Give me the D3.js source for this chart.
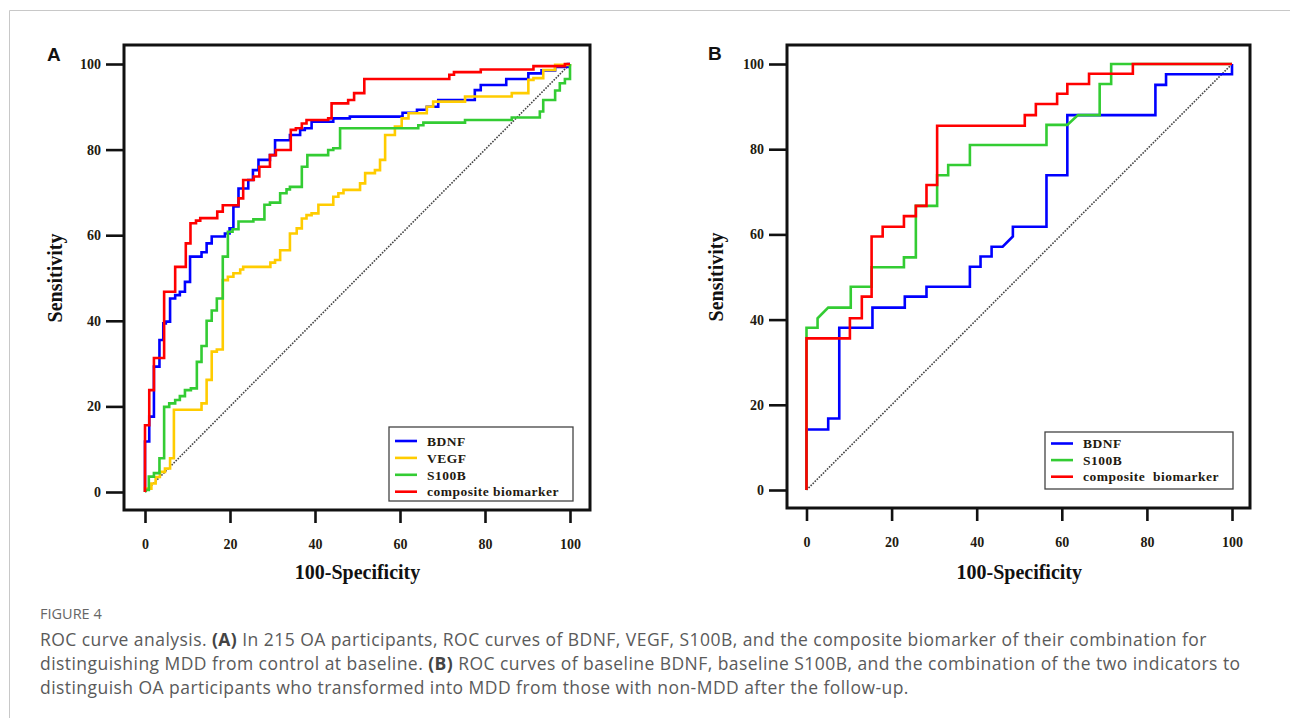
<!DOCTYPE html>
<html>
<head>
<meta charset="utf-8">
<script src="https://cdn.jsdelivr.net/npm/d3@7"></script>
<style>
  html, body { margin: 0; padding: 0; background: #fff; }
  svg { display: block; }
</style>
</head>
<body>
<div id="chart"></div>
<script>
// ticks shared by both panels
const ticks = [0, 20, 40, 60, 80, 100];

// panel A - [100-specificity, sensitivity]
const legendA = ["BDNF", "VEGF", "S100B", "composite biomarker"];
const bdnfA = [[0,0],[0,11.8],[1,11.8],[1,17.6],[2.1,17.6],[2.1,29.3],[3.4,29.3],[3.4,35.5],[4.3,35.5],[4.3,39.4],[4.9,39.4],[4.9,39.8],[5.9,39.8],[5.9,45.2],[7.1,45.2],[7.1,46],[8.2,46],[8.2,46.8],[9.4,46.8],[9.4,49.1],[10.6,49.1],[10.6,55],[13.3,55],[13.3,56],[14.5,56],[14.5,58.1],[15.7,58.1],[15.7,59.7],[18.8,59.7],[18.8,60.4],[19.9,60.4],[19.9,61.6],[20.8,61.6],[20.8,66.7],[22,66.7],[22,70.9],[24.3,70.9],[24.3,72.9],[25.4,72.9],[25.4,75.2],[26.7,75.2],[26.7,77.6],[29.4,77.6],[29.4,78.7],[30.6,78.7],[30.6,82.2],[34.1,82.2],[34.1,83.4],[36.5,83.4],[36.5,84.6],[37.6,84.6],[37.6,85],[39.2,85],[39.2,86.5],[44.3,86.5],[44.3,87.3],[48.2,87.3],[48.2,87.7],[60.6,87.7],[60.6,88.6],[64,88.6],[64,89.3],[66.3,89.3],[66.3,90],[69,90],[69,91.6],[77.6,91.6],[77.6,93.9],[79,93.9],[79,95.1],[85,95.1],[85,96.5],[90.2,96.5],[90.2,97.8],[93.3,97.8],[93.3,98.5],[96.5,98.5],[96.5,99.3],[99.5,99.3],[99.5,100],[100,100]];
const vegfA = [[0,0],[0,0.8],[1.5,0.8],[1.5,2],[2.5,2],[2.5,3.5],[3.5,3.5],[3.5,4.7],[4.7,4.7],[4.7,5.5],[5.9,5.5],[5.9,7.9],[6.8,7.9],[6.8,19.2],[13.3,19.2],[13.3,20.7],[14.5,20.7],[14.5,26.2],[15.7,26.2],[15.7,32.8],[16.9,32.8],[16.9,33.3],[18.3,33.3],[18.3,49.5],[19.5,49.5],[19.5,50.3],[20.8,50.3],[20.8,51.1],[22.4,51.1],[22.4,52],[23.1,52],[23.1,52.6],[29.5,52.6],[29.5,53.6],[30.6,53.6],[30.6,54.2],[31.8,54.2],[31.8,56.5],[34.1,56.5],[34.1,60.4],[35.7,60.4],[35.7,61.6],[36.9,61.6],[36.9,63.9],[38,63.9],[38,64.7],[39.2,64.7],[39.2,65.1],[40.8,65.1],[40.8,67.1],[44.3,67.1],[44.3,69],[45.5,69],[45.5,69.8],[46.7,69.8],[46.7,70.6],[50.6,70.6],[50.6,72.1],[51.8,72.1],[51.8,74.5],[54.1,74.5],[54.1,75.2],[55.3,75.2],[55.3,77.6],[56.5,77.6],[56.5,83.4],[58.8,83.4],[58.8,85.4],[60.4,85.4],[60.4,87.3],[62,87.3],[62,88.5],[66.3,88.5],[66.3,90],[67.8,90],[67.8,91.2],[75.3,91.2],[75.3,92.4],[86.3,92.4],[86.3,93.2],[90.2,93.2],[90.2,96.3],[91.4,96.3],[91.4,96.7],[93.7,96.7],[93.7,98.6],[96.5,98.6],[96.5,99.8],[100,99.8],[100,100]];
const s100bA = [[0,0],[0.4,0.5],[0.9,0.5],[0.9,3.6],[2.1,3.6],[2.1,4.4],[3.4,4.4],[3.4,7.9],[4.5,7.9],[4.5,19.9],[5.7,19.9],[5.7,20.7],[7.1,20.7],[7.1,21.5],[8.2,21.5],[8.2,22.4],[9.4,22.4],[9.4,23.8],[10.8,23.8],[10.8,24.2],[12.2,24.2],[12.2,30.4],[13.3,30.4],[13.3,34.1],[14.5,34.1],[14.5,40],[15.7,40],[15.7,42.4],[16.9,42.4],[16.9,45.2],[18.3,45.2],[18.3,55],[19.5,55],[19.5,60.8],[20.6,60.8],[20.6,61.4],[22,61.4],[22,63.2],[25.5,63.2],[25.5,63.7],[28.1,63.7],[28.1,67.1],[29.4,67.1],[29.4,67.6],[31.8,67.6],[31.8,69.8],[33.3,69.8],[33.3,70.7],[34.1,70.7],[34.1,71.3],[36.9,71.3],[36.9,76],[38.2,76],[38.2,78.7],[43.1,78.7],[43.1,79.9],[44.3,79.9],[44.3,80.3],[45.9,80.3],[45.9,85],[64.3,85],[64.3,85.7],[65.5,85.7],[65.5,86.3],[75.3,86.3],[75.3,86.9],[86.3,86.9],[86.3,87.5],[92.9,87.5],[92.9,88.9],[93.7,88.9],[93.7,91.6],[96.5,91.6],[96.5,93.8],[97.6,93.8],[97.6,95.5],[98.8,95.5],[98.8,96.5],[100,96.5],[100,100]];
const compositeA = [[0,0],[0,15.6],[1,15.6],[1,23.8],[2.1,23.8],[2.1,31.3],[4.5,31.3],[4.5,46.8],[7.1,46.8],[7.1,52.6],[9.6,52.6],[9.6,58.1],[10.7,58.1],[10.7,62.8],[12,62.8],[12,63.4],[13,63.4],[13,64],[17,64],[17,65.5],[18.3,65.5],[18.3,67],[22,67],[22,68.6],[23.1,68.6],[23.1,72.9],[25.6,72.9],[25.6,73.7],[26.9,73.7],[26.9,76],[29.4,76],[29.4,78.7],[30.8,78.7],[30.8,79.9],[34.3,79.9],[34.3,84.6],[35.5,84.6],[35.5,85],[36.9,85],[36.9,86.1],[38,86.1],[38,86.9],[43.1,86.9],[43.1,87.3],[43.9,87.3],[43.9,90.8],[47.8,90.8],[47.8,91.6],[49.2,91.6],[49.2,93.2],[51.6,93.2],[51.6,96.5],[71.6,96.5],[71.6,97.5],[72.7,97.5],[72.7,98.1],[79,98.1],[79,98.7],[91.4,98.7],[91.4,99.5],[98.8,99.5],[98.8,100],[100,100]];

// panel B
const legendB = ["BDNF", "S100B", "composite  biomarker"];
const bdnfB = [[0,0],[0,14.2],[5.1,14.2],[5.1,16.8],[7.7,16.8],[7.7,38.1],[15.5,38.1],[15.5,42.8],[23.1,42.8],[23.1,45.4],[28.2,45.4],[28.2,47.7],[38.4,47.7],[38.4,52.4],[40.9,52.4],[40.9,54.8],[43.5,54.8],[43.5,57.1],[46.1,57.1],[48.5,59.5],[48.5,61.8],[56.4,61.8],[56.4,73.9],[61.3,73.9],[61.3,88],[82,88],[82,95.1],[84.5,95.1],[84.5,97.6],[100,97.6],[100,100]];
const s100bB = [[0,0],[0,38.1],[2.6,38.1],[2.6,40.3],[5.1,42.8],[10.4,42.8],[10.4,47.7],[15.3,47.7],[15.3,52.3],[22.9,52.3],[22.9,54.6],[25.7,54.6],[25.7,66.7],[30.7,66.7],[30.7,73.9],[33.3,73.9],[33.3,76.3],[38.4,76.3],[38.4,81],[56.4,81],[56.4,85.7],[61.3,85.7],[63.8,88],[68.9,88],[68.9,95.3],[71.6,95.3],[71.6,100],[100,100]];
const compositeB = [[0,0],[0,35.6],[10.2,35.6],[10.2,40.3],[13,40.3],[13,45.4],[15.3,45.4],[15.3,59.5],[17.9,59.5],[17.9,61.8],[22.9,61.8],[22.9,64.3],[25.7,64.3],[25.7,66.7],[28.2,66.7],[28.2,71.6],[30.7,71.6],[30.7,85.5],[51.3,85.5],[51.3,88],[53.9,88],[53.9,90.6],[58.9,90.6],[58.9,93],[61.3,93],[61.3,95.3],[66.4,95.3],[66.4,97.7],[76.7,97.7],[76.7,100],[100,100]];

const captionHead = "FIGURE 4";
const captionLines = [
  [["ROC curve analysis. ", false], ["(A)", true], [" In 215 OA participants, ROC curves of BDNF, VEGF, S100B, and the composite biomarker of their combination for", false]],
  [["distinguishing MDD from control at baseline. ", false], ["(B)", true], [" ROC curves of baseline BDNF, baseline S100B, and the combination of the two indicators to", false]],
  [["distinguish OA participants who transformed into MDD from those with non-MDD after the follow-up.", false]]
];

const W = 1290, H = 718;
const serif = "'Liberation Serif', 'Times New Roman', serif";
const ink = "#231a10";

const svg = d3.select("#chart").append("svg")
  .attr("width", W)
  .attr("height", H);

// thin grey page border (top + left)
svg.append("line").attr("x1", 9.5).attr("y1", 10.5).attr("x2", W).attr("y2", 10.5)
  .attr("stroke", "#c8c8c8").attr("stroke-width", 1);
svg.append("line").attr("x1", 9.5).attr("y1", 10.5).attr("x2", 9.5).attr("y2", H)
  .attr("stroke", "#c8c8c8").attr("stroke-width", 1);

function drawPanel(p) {
  const g = svg.append("g");
  const x = d3.scaleLinear().domain([0, 100]).range(p.xr);
  const y = d3.scaleLinear().domain([0, 100]).range(p.yr);

  // panel letter
  g.append("text")
    .attr("x", p.letterX).attr("y", p.letterY)
    .attr("font-family", "'Liberation Sans', Arial, sans-serif")
    .attr("font-weight", "bold")
    .attr("font-size", 19)
    .attr("fill", "#111")
    .text(p.letter);

  // axes, drawn with d3 axis then restyled
  const yAxis = g.append("g")
    .attr("transform", `translate(${p.box[0]},0)`)
    .call(d3.axisLeft(y).tickValues(ticks).tickSize(18).tickPadding(5));
  const xAxis = g.append("g")
    .attr("transform", `translate(0,${p.box[3]})`)
    .call(d3.axisBottom(x).tickValues(ticks).tickSize(13).tickPadding(16));
  [xAxis, yAxis].forEach(a => {
    a.select(".domain").remove();
    a.selectAll(".tick line").attr("stroke", "#111").attr("stroke-width", 2.6);
    a.selectAll(".tick text")
      .attr("font-family", serif)
      .attr("font-weight", "bold")
      .attr("font-size", 14)
      .attr("fill", ink);
  });

  // reference diagonal
  g.append("line")
    .attr("x1", x(0)).attr("y1", y(0))
    .attr("x2", x(100)).attr("y2", y(100))
    .attr("stroke", "#444")
    .attr("stroke-width", 1.6)
    .attr("stroke-dasharray", "1.6,1.3");

  const line = d3.line().x(d => x(d[0])).y(d => y(d[1]));
  p.series.forEach(s => {
    g.append("path")
      .datum(s.data)
      .attr("d", line)
      .attr("fill", "none")
      .attr("stroke", s.color)
      .attr("stroke-width", 2.6)
      .attr("stroke-linejoin", "miter");
  });

  // frame
  g.append("rect")
    .attr("x", p.box[0]).attr("y", p.box[1])
    .attr("width", p.box[2] - p.box[0])
    .attr("height", p.box[3] - p.box[1])
    .attr("fill", "none")
    .attr("stroke", "#111")
    .attr("stroke-width", 3);

  // axis titles
  g.append("text")
    .attr("x", (p.xr[0] + p.xr[1]) / 2).attr("y", p.xTitleY)
    .attr("text-anchor", "middle")
    .attr("font-family", serif).attr("font-weight", "bold").attr("font-size", 20)
    .attr("fill", "#111")
    .text("100-Specificity");
  g.append("text")
    .attr("transform", `translate(${p.yTitle[0]},${p.yTitle[1]}) rotate(-90)`)
    .attr("text-anchor", "middle")
    .attr("dy", "0.35em")
    .attr("font-family", serif).attr("font-weight", "bold").attr("font-size", 20)
    .attr("fill", "#111")
    .text("Sensitivity");

  // legend
  const L = p.legend;
  g.append("rect")
    .attr("x", L.x).attr("y", L.y).attr("width", L.w).attr("height", L.h)
    .attr("fill", "#fff").attr("stroke", "#444").attr("stroke-width", 1.3);
  p.series.forEach((s, i) => {
    const ry = L.y + L.first + i * L.step;
    g.append("line")
      .attr("x1", L.x + 6).attr("x2", L.x + 28)
      .attr("y1", ry).attr("y2", ry)
      .attr("stroke", s.color).attr("stroke-width", 2.6);
    g.append("text")
      .attr("x", L.x + 38).attr("y", ry)
      .attr("dy", "0.35em")
      .attr("font-family", serif).attr("font-weight", "bold").attr("font-size", 13.5)
      .attr("letter-spacing", 0.5)
      .attr("fill", ink)
      .style("white-space", "pre")
      .text(s.name);
  });
}

const blue = "#0000ff", yellow = "#ffcc00", green = "#33cc33", red = "#ff0000";

drawPanel({
  letter: "A", letterX: 47, letterY: 61,
  box: [124, 45, 590, 510],
  xr: [145, 570], yr: [492, 64],
  xTitleY: 579, yTitle: [55, 278],
  legend: { x: 389, y: 427, w: 184, h: 74, first: 14, step: 16.9 },
  series: [
    { name: legendA[0], data: bdnfA, color: blue },
    { name: legendA[1], data: vegfA, color: yellow },
    { name: legendA[2], data: s100bA, color: green },
    { name: legendA[3], data: compositeA, color: red }
  ]
});

drawPanel({
  letter: "B", letterX: 708, letterY: 60,
  box: [787, 45, 1250, 508],
  xr: [806.5, 1232], yr: [490, 64],
  xTitleY: 579, yTitle: [716, 277],
  legend: { x: 1045, y: 432, w: 188, h: 57, first: 11.5, step: 16.6 },
  series: [
    { name: legendB[0], data: bdnfB, color: blue },
    { name: legendB[1], data: s100bB, color: green },
    { name: legendB[2], data: compositeB, color: red }
  ]
});

// caption
const sans = "'Open Sans', 'Noto Sans', sans-serif";
svg.append("text")
  .attr("x", 40).attr("y", 619)
  .attr("font-family", sans).attr("font-size", 14.5)
  .attr("fill", "#666")
  .text(captionHead);

captionLines.forEach((parts, i) => {
  const t = svg.append("text")
    .attr("x", 40).attr("y", 646 + i * 24)
    .attr("font-family", sans).attr("font-size", 17.5)
    .attr("letter-spacing", 0.45)
    .attr("fill", "#5a5a5a");
  parts.forEach(([txt, bold]) => {
    t.append("tspan")
      .attr("font-weight", bold ? 700 : 400)
      .attr("fill", bold ? "#444" : "#5a5a5a")
      .style("white-space", "pre")
      .text(txt);
  });
});
</script>
</body>
</html>
